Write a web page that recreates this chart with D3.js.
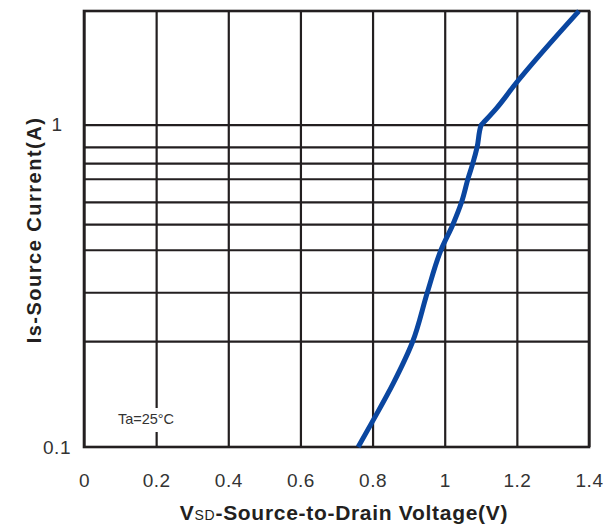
<!DOCTYPE html>
<html>
<head>
<meta charset="utf-8">
<script src="https://cdn.jsdelivr.net/npm/d3@7"></script>
<style>
  html, body { margin: 0; padding: 0; background: #fff; }
  svg { display: block; }
</style>
</head>
<body>
<svg id="chart" width="603" height="525"></svg>
<script>
// ---- data ----
const vsd = [0.760, 0.798, 0.858, 0.911, 0.952, 0.990, 1.023, 1.047, 1.065, 1.078, 1.090, 1.101, 1.106, 1.144, 1.198, 1.372];
const isCurrent = [0.100, 0.119, 0.158, 0.212, 0.302, 0.409, 0.491, 0.576, 0.682, 0.759, 0.853, 0.996, 1.010, 1.125, 1.345, 2.25];
const xTicks = [0, 0.2, 0.4, 0.6, 0.8, 1.0, 1.2, 1.4];
const yLabelTicks = [0.1, 1];
const yGridLines = [0.213, 0.302, 0.409, 0.491, 0.576, 0.679, 0.759, 0.853, 1];
const xDomain = [0, 1.4];
const yDomain = [0.1, 2.25];
const xTitleMain = "V";
const xTitleSub = "SD";
const xTitleRest = "-Source-to-Drain Voltage(V)";
const yTitle = "Is-Source Current(A)";
const note = "Ta=25°C";

(function () {
// ---- layout ----
const svg = d3.select("#chart");
const pLeft = 84, pRight = 589, pTop = 11, pBottom = 447;
const gridColor = "#231f20";
const font = "'Liberation Sans', Arial, sans-serif";

const x = d3.scaleLinear().domain(xDomain).range([pLeft, pRight]);
const y = d3.scaleLog().domain(yDomain).range([pBottom, pTop]);

svg.append("rect").attr("width", 603).attr("height", 525).attr("fill", "#fff");

// vertical grid lines via axis
const xGrid = d3.axisBottom(x).tickValues(xTicks).tickSize(-(pBottom - pTop)).tickFormat("");
svg.append("g").attr("transform", `translate(0,${pBottom})`).call(xGrid)
  .call(g => g.select(".domain").remove())
  .call(g => g.selectAll("line").attr("stroke", gridColor).attr("stroke-width", 2.2));

// horizontal grid lines via axis
const yGrid = d3.axisLeft(y).tickValues(yGridLines).tickSize(-(pRight - pLeft)).tickFormat("");
svg.append("g").attr("transform", `translate(${pLeft},0)`).call(yGrid)
  .call(g => g.select(".domain").remove())
  .call(g => g.selectAll("line").attr("stroke", gridColor).attr("stroke-width", 2.2));

// frame
svg.append("rect").attr("x", pLeft).attr("y", pTop).attr("width", pRight - pLeft).attr("height", pBottom - pTop)
  .attr("fill", "none").attr("stroke", gridColor).attr("stroke-width", 2.6);

// annotation with white background
const noteG = svg.append("g");
const noteText = noteG.append("text")
  .attr("x", 146).attr("y", 424)
  .attr("text-anchor", "middle")
  .attr("font-family", font).attr("font-size", 14.5).attr("fill", "#333")
  .text(note);
const bb = noteText.node().getBBox();
noteG.insert("rect", "text").attr("x", bb.x - 2).attr("y", 408).attr("width", bb.width + 4).attr("height", 24).attr("fill", "#fff");

// curve
const line = d3.line().x((d, i) => x(vsd[i])).y(d => y(d)).curve(d3.curveMonotoneY);
svg.append("path").datum(isCurrent)
  .attr("d", line)
  .attr("fill", "none").attr("stroke", "#0a46a0").attr("stroke-width", 5).attr("stroke-linejoin", "round");

// x tick labels
const xAxis = d3.axisBottom(x).tickValues(xTicks).tickSize(0).tickPadding(0)
  .tickFormat(d => d3.format("~g")(d));
svg.append("g").attr("transform", `translate(0,${pBottom + 40})`).call(xAxis)
  .call(g => g.select(".domain").remove())
  .call(g => g.selectAll("text").attr("font-family", font).attr("font-size", 19).attr("fill", "#333").attr("dy", 0).attr("letter-spacing", 0.5));

// y tick labels
const yAxis = d3.axisLeft(y).tickValues(yLabelTicks).tickSize(0).tickPadding(0)
  .tickFormat(d => d3.format("~g")(d));
svg.append("g").attr("transform", `translate(57,0)`).call(yAxis)
  .call(g => g.select(".domain").remove())
  .call(g => g.selectAll("text").attr("font-family", font).attr("font-size", 19).attr("fill", "#333").attr("letter-spacing", 0.5).attr("text-anchor", "middle"));

// x title
const xt = svg.append("text").attr("x", 344).attr("y", 520).attr("text-anchor", "middle")
  .attr("font-family", font).attr("font-weight", "bold").attr("font-size", 21).attr("fill", "#231f20")
  .attr("letter-spacing", 0.7);
xt.append("tspan").text(xTitleMain);
xt.append("tspan").attr("font-size", 14).attr("font-weight", "normal").text(xTitleSub);
xt.append("tspan").text(xTitleRest);

// y title
svg.append("text").attr("transform", "translate(41,230) rotate(-90)").attr("text-anchor", "middle")
  .attr("font-family", font).attr("font-weight", "bold").attr("font-size", 20).attr("fill", "#231f20")
  .attr("letter-spacing", 1.5)
  .text(yTitle);
})();
</script>
</body>
</html>
